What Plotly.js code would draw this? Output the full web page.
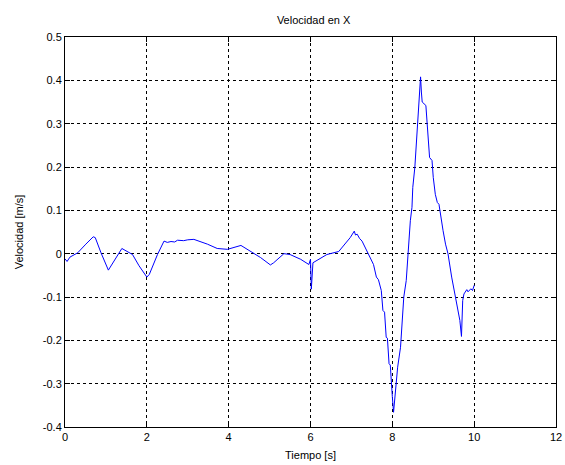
<!DOCTYPE html>
<html>
<head>
<meta charset="utf-8">
<script src="https://cdn.plot.ly/plotly-3.0.1.min.js"></script>
<style>html,body{margin:0;padding:0;background:#fff;}#chart{width:565px;height:465px;}</style>
</head>
<body>
<div id="chart"></div>
<script>
const tiempo = [0, 0.05, 0.12, 0.31, 0.51, 0.69, 0.74, 0.88, 1.06, 1.2, 1.39, 1.65, 1.81, 2.0, 2.06, 2.26, 2.42, 2.5, 2.59, 2.68, 2.75, 2.9, 3.0, 3.15, 3.3, 3.48, 3.72, 3.97, 4.3, 4.53, 4.78, 5.02, 5.1, 5.35, 5.5, 5.76, 5.96, 6.0, 6.02, 6.06, 6.2, 6.4, 6.69, 6.85, 6.97, 7.07, 7.1, 7.14, 7.2, 7.26, 7.42, 7.54, 7.61, 7.66, 7.73, 7.77, 7.81, 7.85, 7.88, 7.92, 7.95, 7.97, 8.0, 8.03, 8.05, 8.08, 8.13, 8.2, 8.24, 8.28, 8.34, 8.38, 8.42, 8.44, 8.48, 8.5, 8.55, 8.59, 8.63, 8.67, 8.69, 8.71, 8.73, 8.82, 8.85, 8.89, 8.91, 8.97, 9.0, 9.05, 9.1, 9.14, 9.18, 9.24, 9.3, 9.36, 9.45, 9.53, 9.61, 9.65, 9.69, 9.72, 9.75, 9.82, 9.85, 9.92, 9.96, 10.0];
const velocidad = [-0.012, -0.018, -0.008, 0.002, 0.022, 0.039, 0.037, 0.002, -0.038, -0.017, 0.012, -0.002, -0.028, -0.054, -0.048, -0.002, 0.029, 0.026, 0.028, 0.027, 0.031, 0.030, 0.032, 0.033, 0.028, 0.022, 0.012, 0.010, 0.019, 0.006, -0.009, -0.026, -0.021, 0.000, -0.002, -0.013, -0.025, -0.013, -0.082, -0.021, -0.013, -0.002, 0.005, 0.022, 0.037, 0.052, 0.043, 0.045, 0.035, 0.029, -0.002, -0.025, -0.054, -0.060, -0.085, -0.131, -0.135, -0.193, -0.195, -0.254, -0.257, -0.300, -0.330, -0.366, -0.345, -0.297, -0.262, -0.216, -0.146, -0.100, -0.062, 0.000, 0.054, 0.076, 0.107, 0.153, 0.199, 0.261, 0.315, 0.369, 0.408, 0.373, 0.350, 0.342, 0.300, 0.261, 0.222, 0.215, 0.176, 0.137, 0.118, 0.114, 0.087, 0.053, 0.022, 0.000, -0.054, -0.096, -0.131, -0.154, -0.191, -0.108, -0.093, -0.083, -0.088, -0.081, -0.085, -0.073];

const xTicks = [0, 2, 4, 6, 8, 10, 12];
const yTicks = [-0.4, -0.3, -0.2, -0.1, 0, 0.1, 0.2, 0.3, 0.4, 0.5];
const yTickText = ['-0.4', '-0.3', '-0.2', '-0.1', '0', '0.1', '0.2', '0.3', '0.4', '0.5'];

const fontFam = 'Liberation Sans, Arial, sans-serif';
const axisCommon = {
  showline: true, linecolor: '#000', linewidth: 1, mirror: 'ticks',
  ticks: 'inside', ticklen: 5, tickcolor: '#000',
  showgrid: true, gridcolor: '#000', gridwidth: 1, griddash: '3px,3px',
  zeroline: false, tickfont: {family: fontFam, size: 11, color: '#000'}
};

Plotly.newPlot('chart', [{
  x: tiempo, y: velocidad, type: 'scatter', mode: 'lines',
  line: {color: '#0000ff', width: 1}
}], {
  width: 565, height: 465,
  margin: {l: 65, r: 9, t: 37, b: 38},
  paper_bgcolor: '#fff', plot_bgcolor: '#fff',
  showlegend: false,
  title: {text: 'Velocidad en X', font: {family: fontFam, size: 11, color: '#000'}, x: 0.555, xanchor: 'center', y: 0.957, yanchor: 'middle'},
  xaxis: Object.assign({}, axisCommon, {
    range: [0, 12], tickvals: xTicks, ticktext: xTicks.map(String),
    title: {text: 'Tiempo [s]', font: {family: fontFam, size: 11, color: '#000'}, standoff: 9}
  }),
  yaxis: Object.assign({}, axisCommon, {
    range: [-0.4, 0.5], tickvals: yTicks, ticktext: yTickText,
    title: {text: 'Velocidad [m/s]', font: {family: fontFam, size: 11, color: '#000'}, standoff: 16}
  })
}, {displayModeBar: false, staticPlot: true});
</script>
</body>
</html>
